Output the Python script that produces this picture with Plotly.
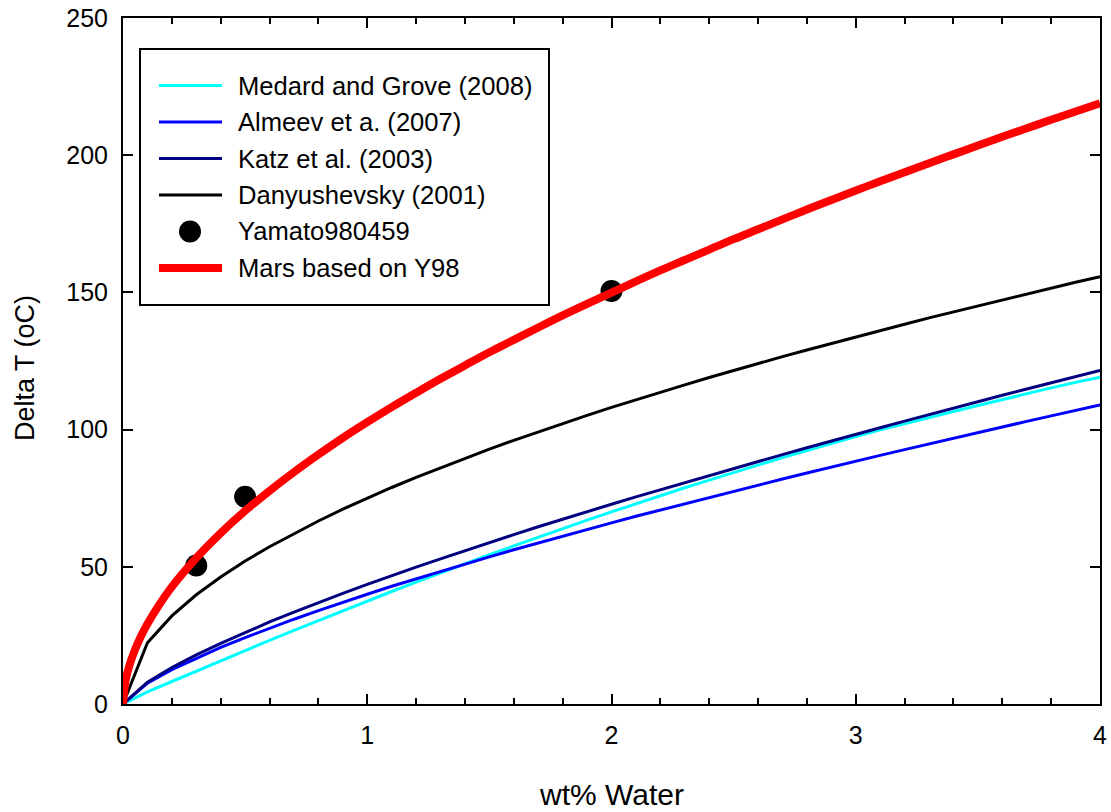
import plotly.graph_objects as go

# ---------------- data ----------------
water = [0, 0.1, 0.2, 0.3, 0.4, 0.5, 0.6, 0.7, 0.8, 0.9, 1.0,
         1.1, 1.2, 1.3, 1.4, 1.5, 1.6, 1.7, 1.8, 1.9, 2.0,
         2.1, 2.2, 2.3, 2.4, 2.5, 2.6, 2.7, 2.8, 2.9, 3.0,
         3.1, 3.2, 3.3, 3.4, 3.5, 3.6, 3.7, 3.8, 3.9, 4.0]

medard_grove = [0, 4.4, 8.2, 12.0, 15.8, 19.5, 23.2, 26.8, 30.4, 34.0, 37.5,
                41.0, 44.4, 47.8, 51.1, 54.4, 57.6, 60.8, 63.9, 67.0, 70.0,
                73.0, 75.9, 78.8, 81.6, 84.4, 87.1, 89.8, 92.4, 95.0, 97.5,
                99.9, 102.2, 104.4, 106.6, 108.8, 111.0, 113.1, 115.2, 117.2, 119.1]

almeev = [0, 7.6, 12.5, 16.7, 20.6, 24.2, 27.6, 30.9, 34.0, 37.1, 40.0,
          42.9, 45.6, 48.4, 51.0, 53.6, 56.2, 58.7, 61.2, 63.6, 66.0,
          68.4, 70.7, 73.0, 75.3, 77.6, 79.8, 82.0, 84.2, 86.4, 88.5,
          90.6, 92.7, 94.8, 96.9, 99.0, 101.0, 103.0, 105.0, 107.0, 109.0]

katz = [0, 7.9, 13.3, 17.9, 22.1, 26.1, 29.9, 33.5, 37.0, 40.3, 43.6,
        46.8, 49.9, 52.9, 55.9, 58.9, 61.7, 64.6, 67.4, 70.1, 72.8,
        75.5, 78.1, 80.7, 83.3, 85.9, 88.4, 90.9, 93.4, 95.9, 98.3,
        100.7, 103.1, 105.5, 107.8, 110.2, 112.5, 114.8, 117.1, 119.4, 121.6]

danyushevsky = [0, 22.3, 32.1, 39.8, 46.3, 52.1, 57.3, 62.1, 66.7, 71.0, 75.0,
                78.9, 82.6, 86.1, 89.6, 92.9, 96.1, 99.2, 102.2, 105.2, 108.1,
                110.9, 113.6, 116.3, 119.0, 121.6, 124.1, 126.6, 129.0, 131.4, 133.8,
                136.1, 138.4, 140.7, 142.9, 145.1, 147.3, 149.4, 151.6, 153.7, 155.7]

mars_water = [0, 0.01, 0.025, 0.05, 0.075, 0.1, 0.15, 0.2,
              0.3, 0.4, 0.5, 0.6, 0.7, 0.8, 0.9, 1.0,
              1.1, 1.2, 1.3, 1.4, 1.5, 1.6, 1.7, 1.8, 1.9, 2.0,
              2.1, 2.2, 2.3, 2.4, 2.5, 2.6, 2.7, 2.8, 2.9, 3.0,
              3.1, 3.2, 3.3, 3.4, 3.5, 3.6, 3.7, 3.8, 3.9, 4.0]
mars_y98 = [0, 8.3, 13.7, 20.0, 25.0, 29.2, 36.4, 42.7,
            53.2, 62.3, 70.4, 77.7, 84.5, 90.9, 97.0, 102.7,
            108.2, 113.4, 118.5, 123.4, 128.2, 132.7, 137.2, 141.6, 145.8, 149.9,
            154.0, 158.0, 161.8, 165.6, 169.4, 173.0, 176.6, 180.2, 183.7, 187.1,
            190.5, 193.8, 197.1, 200.3, 203.5, 206.7, 209.8, 212.9, 215.9, 218.9]

yamato_water = [0.3, 0.5, 2.0]
yamato_dt = [50.5, 75.5, 150.5]

series_names = ["Medard and Grove (2008)", "Almeev et a. (2007)", "Katz et al. (2003)",
                "Danyushevsky (2001)", "Yamato980459", "Mars based on Y98"]
x_ticks = [0, 1, 2, 3, 4]
y_ticks = [0, 50, 100, 150, 200, 250]

# ---------------- styling ----------------
FONT = "Liberation Sans, Arial, sans-serif"
W, H = 1111, 812
ML, MR, MT, MB = 123, 11, 18, 108
PW, PH = W - ML - MR, H - MT - MB

def px(xp):
    return (xp - ML) / PW

def py(yp):
    return (H - MB - yp) / PH

colors = ["#00FFFF", "#0000FF", "#000080", "#000000", "#000000", "#FF0000"]

fig = go.Figure()
line_series = [medard_grove, almeev, katz, danyushevsky]
for name, vals, col in zip(series_names[:4], line_series, colors[:4]):
    fig.add_trace(go.Scatter(x=water, y=vals, mode="lines", name=name,
                             line=dict(color=col, width=3), showlegend=False))

fig.add_trace(go.Scatter(x=yamato_water, y=yamato_dt, mode="markers", name=series_names[4],
                         marker=dict(color="black", size=22, symbol="circle"),
                         showlegend=False, cliponaxis=False))
fig.add_trace(go.Scatter(x=mars_water, y=mars_y98, mode="lines", name=series_names[5],
                         line=dict(color=colors[5], width=8, shape="spline", smoothing=1.0),
                         showlegend=False))

# ---------------- manual legend ----------------
shapes = [dict(type="rect", xref="paper", yref="paper",
               x0=px(140), x1=px(549), y0=py(49), y1=py(305),
               line=dict(color="black", width=2), fillcolor="white", layer="below")]
annotations = []
row_y = [85.5, 122, 158.5, 195, 231.5, 268]
for i, (name, col) in enumerate(zip(series_names, colors)):
    yy = py(row_y[i])
    if i == 4:
        shapes.append(dict(type="circle", xref="paper", yref="paper",
                           x0=px(179), x1=px(201), y0=py(row_y[i] + 11), y1=py(row_y[i] - 11),
                           fillcolor="black", line=dict(color="black", width=0)))
    else:
        w = 8 if i == 5 else 3
        shapes.append(dict(type="line", xref="paper", yref="paper",
                           x0=px(159), x1=px(222), y0=yy, y1=yy,
                           line=dict(color=col, width=w)))
    annotations.append(dict(text=name, xref="paper", yref="paper", x=px(236), y=yy,
                            xanchor="left", yanchor="middle", showarrow=False,
                            font=dict(family=FONT, size=25.6, color="black")))

# axis titles
annotations.append(dict(text="Delta T (oC)", xref="paper", yref="paper",
                        x=px(25), y=py(368), textangle=-90, xanchor="center", yanchor="middle",
                        showarrow=False, font=dict(family=FONT, size=27, color="black")))
annotations.append(dict(text="wt% Water", xref="paper", yref="paper",
                        x=px(611.5), y=py(794), xanchor="center", yanchor="middle",
                        showarrow=False, font=dict(family=FONT, size=30, color="black")))

axis_common = dict(showline=True, linecolor="black", linewidth=2, mirror="allticks",
                   ticks="inside", ticklen=10, tickwidth=2, tickcolor="black",
                   showgrid=False, zeroline=False, automargin=False,
                   tickfont=dict(family=FONT, size=25, color="black"))

fig.update_layout(
    width=W, height=H,
    margin=dict(l=ML, r=MR, t=MT, b=MB, pad=0, autoexpand=False),
    paper_bgcolor="white", plot_bgcolor="white",
    font=dict(family=FONT, color="black"),
    xaxis=dict(range=[0, 4], tickvals=x_ticks, ticktext=[str(v) for v in x_ticks],
               minor=dict(ticks="inside", ticklen=6, tickwidth=2, tickcolor="black", dtick=0.2, showgrid=False),
               ticklabelstandoff=8, **axis_common),
    yaxis=dict(range=[0, 250], tickvals=y_ticks, ticktext=[str(v) for v in y_ticks],
               ticklabelstandoff=8, **axis_common),
    shapes=shapes,
    annotations=annotations,
    showlegend=False,
)

fig.write_html("out.html")
